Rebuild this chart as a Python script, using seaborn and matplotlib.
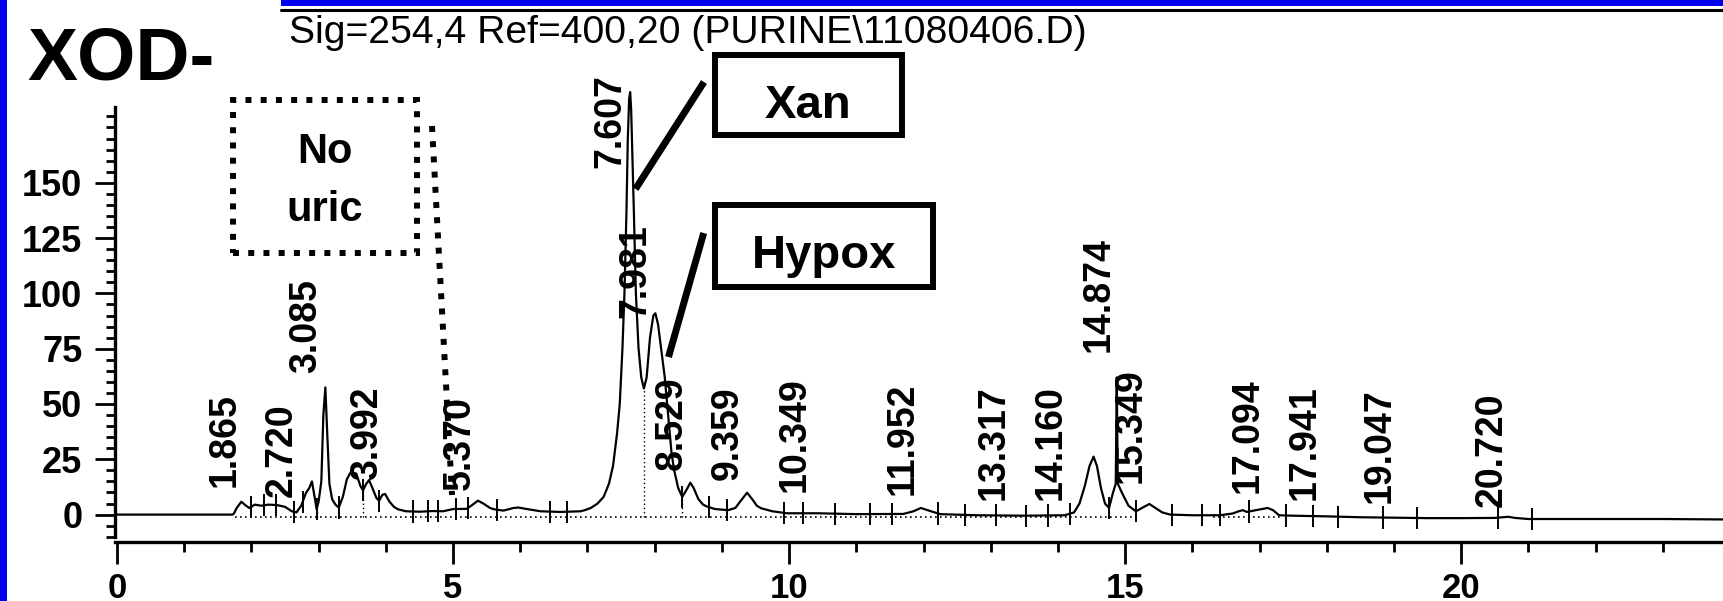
import numpy as np
import pandas as pd
import matplotlib
matplotlib.use("Agg")
import matplotlib.pyplot as plt
import seaborn as sns
from matplotlib.patches import Rectangle
from matplotlib.lines import Line2D

# ---------------- data ----------------
time_min = [
    0.0, 1.72, 1.74, 1.78, 1.85, 1.92, 1.97, 2.05, 2.15, 2.25,
    2.38, 2.50, 2.60, 2.67, 2.74, 2.81, 2.86, 2.90, 2.94, 2.97,
    3.00, 3.04, 3.07, 3.10, 3.13, 3.16, 3.20, 3.25, 3.30, 3.36,
    3.42, 3.48, 3.56, 3.62, 3.66, 3.71, 3.75, 3.80, 3.86, 3.90,
    3.95, 3.99, 4.05, 4.12, 4.18, 4.30, 4.50, 4.70, 4.85, 5.00,
    5.20, 5.27, 5.37, 5.45, 5.55, 5.61, 5.75, 5.90, 5.97, 6.10,
    6.30, 6.60, 6.90, 6.96, 7.05, 7.15, 7.24, 7.32, 7.38, 7.44,
    7.48, 7.52, 7.55, 7.58, 7.60, 7.62, 7.635, 7.65, 7.67, 7.69,
    7.72, 7.76, 7.80, 7.84, 7.88, 7.93, 7.98, 8.01, 8.05, 8.10,
    8.15, 8.20, 8.25, 8.29, 8.35, 8.41, 8.47, 8.53, 8.58, 8.65,
    8.72, 8.78, 8.90, 9.09, 9.20, 9.30, 9.375, 9.45, 9.52, 9.58,
    9.75, 9.97, 10.43, 11.00, 11.70, 11.85, 11.96, 12.08, 12.25, 12.80,
    13.50, 14.10, 14.24, 14.32, 14.40, 14.47, 14.53, 14.58, 14.64, 14.70,
    14.76, 14.82, 14.86, 14.875, 14.89, 14.95, 15.05, 15.16, 15.25, 15.36,
    15.45, 15.55, 15.67, 16.00, 16.41, 16.60, 16.69, 16.75, 16.81, 16.95,
    17.12, 17.20, 17.29, 17.50, 18.00, 18.50, 19.00, 19.50, 20.00, 20.50,
    20.70, 20.80, 21.00, 22.00, 23.00, 23.91,
]
signal_mau = [
    0, 0, 0.5, 3, 5.8, 4, 3, 4.5, 4.0, 4.5,
    4.3, 3.5, 1.5, 1.0, 4.0, 9.7, 12, 15, 8, 2.4,
    6, 15, 45, 57.5, 35, 14, 7, 4.5, 3.2, 8,
    16, 19.3, 18.5, 13, 11, 14, 15.6, 12, 7.5, 6.3,
    9, 9.3, 6, 3.5, 2.4, 1.5, 1.3, 1.6, 1.5, 2.5,
    2.6, 4, 6.3, 5, 3, 2.4, 1.8, 3, 3.2, 2.5,
    1.5, 1.2, 1.5, 2, 3, 5, 8, 14, 22, 36.7,
    50, 75, 100, 137, 170, 188, 191, 183, 160, 137,
    100, 75, 62, 57, 62, 80, 90, 91, 86, 74,
    62, 45, 28, 20, 12, 8, 11, 14.4, 12, 7,
    4.5, 3.6, 2.5, 2, 3, 7, 9.9, 7, 4, 2.9,
    1.5, 0.6, 0.6, 0.2, 0.3, 1.5, 3, 1.8, 0.2, -0.3,
    -0.5, -0.3, 1, 5, 13, 22, 26.2, 22, 12, 5,
    3, 10, 14, 62, 14, 10, 4, 1.5, 3, 4.8,
    3, 1, 0, -0.3, -0.3, 0.5, 1.5, 2, 1.2, 2,
    3, 2, -0.3, -0.5, -0.8, -1.2, -1.4, -1.6, -1.6, -1.5,
    -1, -1.5, -2, -2, -2, -2.2,
]

peak_rt_labels = ["1.865", "2.720", "3.085", "3.992", "5.370", "7.607", "7.981",
                  "8.529", "9.359", "10.349", "11.952", "13.317", "14.160",
                  "14.874", "15.349", "17.094", "17.941", "19.047", "20.720"]
# height (mAU) at which each rotated retention-time label starts
label_start = [12.5, 8.0, 64.0, 15.6, 11.0, 156.7, 89.0,
               20.1, 15.6, 10.4, 8.9, 6.6, 6.6,
               73.5, 14.3, 9.6, 6.6, 5.2, 3.6]

# integration event marks and drop lines (min)
event_times = [1.99, 2.19, 2.37, 2.64, 2.76, 2.97, 3.30, 3.66, 3.90, 4.40,
               4.62, 4.78, 5.04, 5.22, 5.65, 6.44, 6.70, 8.41, 8.81, 9.07,
               9.93, 10.20, 10.68, 11.20, 11.53, 12.22, 12.62, 13.08, 13.53, 13.85,
               14.18, 14.76, 15.16, 15.70, 16.15, 16.41, 16.84, 17.40, 17.80, 18.17,
               18.83, 19.34, 20.54, 21.05]
drop_times = [2.97, 3.66, 7.84, 8.41, 14.76]

x_major = [0, 5, 10, 15, 20]
y_major = [0, 25, 50, 75, 100, 125, 150]

title_text = "Sig=254,4 Ref=400,20 (PURINE\\11080406.D)"

# ---------------- figure ----------------
W, H = 1724, 601
sns.set_theme(style="white")
plt.rcParams["font.family"] = ["Liberation Sans", "DejaVu Sans"]
plt.rcParams.update({"text.color": "black", "axes.edgecolor": "black",
                     "xtick.color": "black", "ytick.color": "black",
                     "axes.labelcolor": "black"})

fig = plt.figure(figsize=(W / 100, H / 100), dpi=100)
fig.patch.set_facecolor("white")


def fx(px):
    return px / W


def fy(py):
    return 1 - py / H


ax = fig.add_axes([fx(115), fy(542), 1 - fx(115), fy(106.7) - fy(542)])
ax.set_facecolor("white")

trace = pd.DataFrame({"time": time_min, "signal": signal_mau})
sns.lineplot(data=trace, x="time", y="signal", ax=ax, color="black",
             linewidth=1.6, estimator=None, sort=False)
ax.lines[0].set_clip_on(False)
ax.set_xlim(-0.03, 23.91)
ax.set_ylim(-12.39, 184.4)
ax.set_xlabel("")
ax.set_ylabel("")

# dotted integration baseline and drop lines
ax.plot([1.75, 15.2], [-1.2, -1.2], ls=(0, (1, 2)), lw=1.2, color="black")
ax.plot([16.3, 17.35], [-1.2, -1.2], ls=(0, (1, 2)), lw=1.2, color="black")
drop_top = np.interp(drop_times, time_min, signal_mau)
ax.vlines(drop_times, -1.2, drop_top, colors="black", linestyles=(0, (1, 2)), lw=1.0)

# event tick marks across the trace
ev_y = np.interp(event_times, time_min, signal_mau)
ax.vlines(event_times, ev_y - 5, ev_y + 5, colors="black", lw=1.4)

# retention-time labels
for lab, base in zip(peak_rt_labels, label_start):
    ax.text(float(lab), base, lab, rotation=90, ha="right", va="bottom",
            fontsize=27, fontweight="bold", color="black")

# spines and ticks
for s in ["top", "right"]:
    ax.spines[s].set_visible(False)
ax.spines["left"].set_bounds(-10.3, 184.4)
ax.spines["left"].set_linewidth(2.4)
ax.spines["bottom"].set_linewidth(2.4)
ax.grid(False)

ax.set_xticks(x_major)
ax.set_xticks(np.arange(0, 24, 1), minor=True)
ax.set_xticklabels([str(v) for v in x_major])
ax.set_yticks(y_major)
ax.set_yticks(np.arange(-10, 185, 5), minor=True)
ax.set_yticklabels([str(v) for v in y_major])
ax.tick_params(axis="x", which="major", direction="out", length=16, width=2,
               pad=5.5, labelsize=25, bottom=True)
ax.tick_params(axis="x", which="minor", direction="out", length=7, width=2, bottom=True)
ax.tick_params(axis="y", which="major", direction="out", length=14.4, width=2,
               pad=9, labelsize=26, left=True)
ax.tick_params(axis="y", which="minor", direction="out", length=6.5, width=2, left=True)
for t in ax.get_xticklabels() + ax.get_yticklabels():
    t.set_fontweight("bold")

# ---------------- page decorations ----------------
blue = "#0000F0"
fig.add_artist(Rectangle((0, 0), 6.7 / W, 1, transform=fig.transFigure,
                         facecolor=blue, edgecolor="none"))
fig.add_artist(Rectangle((fx(281), fy(6)), 1 - fx(281), 6 / H, transform=fig.transFigure,
                         facecolor=blue, edgecolor="none"))
fig.add_artist(Line2D([fx(281), 1], [fy(10), fy(10)], transform=fig.transFigure,
                      color="black", lw=2.2))

fig.text(fx(27), fy(80), "XOD-", fontsize=54, fontweight="bold", ha="left", va="baseline")
fig.text(fx(289), fy(43), title_text, fontsize=28.2, ha="left", va="baseline")

# "No uric" dotted box
dot = (0, (1.0, 1.55))
fig.add_artist(Rectangle((fx(233.4), fy(253)), (417 - 233.4) / W, (253 - 100) / H,
                         transform=fig.transFigure, fill=False, edgecolor="black",
                         lw=4.3, ls=dot))
fig.add_artist(Line2D([fx(432), fx(452)], [fy(126), fy(495)], transform=fig.transFigure,
                      color="black", lw=4.3, ls=dot, dash_capstyle="butt"))
fig.text(fx(325), fy(163), "No", fontsize=30, fontweight="bold", ha="center", va="baseline")
fig.text(fx(325), fy(221), "uric", fontsize=30, fontweight="bold", ha="center", va="baseline")

# Xan box and pointer
fig.add_artist(Rectangle((fx(714.6), fy(135)), (902 - 714.6) / W, (135 - 55) / H,
                         transform=fig.transFigure, fill=False, edgecolor="black", lw=4.3))
fig.text(fx(808), fy(118), "Xan", fontsize=34, fontweight="bold", ha="center", va="baseline")
fig.add_artist(Line2D([fx(704), fx(635.5)], [fy(82), fy(189)], transform=fig.transFigure,
                      color="black", lw=5, solid_capstyle="butt"))

# Hypox box and pointer
fig.add_artist(Rectangle((fx(714.6), fy(287)), (932.7 - 714.6) / W, (287 - 205) / H,
                         transform=fig.transFigure, fill=False, edgecolor="black", lw=4.3))
fig.text(fx(823.6), fy(268), "Hypox", fontsize=34, fontweight="bold", ha="center", va="baseline")
fig.add_artist(Line2D([fx(703.7), fx(668.5)], [fy(233), fy(357)], transform=fig.transFigure,
                      color="black", lw=5, solid_capstyle="butt"))

fig.savefig("out.png", dpi=100, facecolor="white")
